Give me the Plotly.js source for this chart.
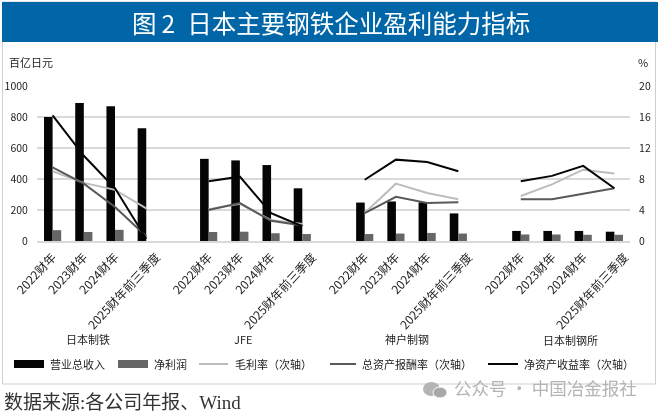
<!DOCTYPE html>
<html><head><meta charset="utf-8">
<script src="https://cdn.plot.ly/plotly-3.0.1.min.js"></script>
<style>html,body{margin:0;padding:0;background:#fff}#c{width:660px;height:413px;filter:blur(0.3px)}</style>
</head><body><div id="c"></div>
<script>
const periods = ['2022财年','2023财年','2024财年','2025财年前三季度'];
const companies = ['日本制铁','JFE','神户制钢','日本制钢所'];
const slots = [0,1,2,3,4,5,6,7,8,9,10,11,12,13,14,15,16,17,18];
const tickSlots = [0,1,2,3.33,5,6,7,8.33,10,11,12,13.33,15,16,17,18.33];
const tickLabels = [...periods,...periods,...periods,...periods];
const revenue = [800,890,870,728,null,530,520,490,340,null,248,255,250,178,null,65,65,65,60];
const netProfit = [70,58,72,0,null,58,60,50,45,null,45,48,52,48,null,42,42,40,40];
const grossMargin = [9.0,7.5,6.6,4.2,null,4.1,4.8,2.7,2.2,null,3.6,7.4,6.2,5.4,null,5.8,7.3,9.2,8.7];
const roa = [9.5,7.4,4.4,0.6,null,4.0,4.9,2.6,2.0,null,3.6,5.7,4.9,5.0,null,5.4,5.4,6.1,6.8];
const roe = [16.2,11.0,6.8,0.3,null,7.7,8.3,3.6,1.9,null,7.9,10.5,10.2,9.0,null,7.7,8.4,9.7,6.8];
const seriesNames = ['营业总收入','净利润','毛利率（次轴）','总资产报酬率（次轴）','净资产收益率（次轴）'];
const titleText = '图\u20092\u2002日本主要钢铁企业盈利能力指标';
const sourceText = '数据来源:各公司年报、Wind';
const watermarkText = '公众号 · 中国冶金报社';

const CJK = '"Noto Sans CJK SC","Noto Sans",sans-serif';
const L=37,R=630,T=86,B=241;
const px=x=>(x-L)/(R-L), py=y=>(B-y)/(B-T);
const rect=(x0,y0,x1,y1,fill,line)=>({type:'rect',xref:'paper',yref:'paper',x0:px(x0),x1:px(x1),y0:py(y0),y1:py(y1),fillcolor:fill,line:line||{width:0},layer:'below'});
const hline=(x0,x1,y,color,w)=>({type:'line',xref:'paper',yref:'paper',x0:px(x0),x1:px(x1),y0:py(y),y1:py(y),line:{color:color,width:w}});
const note=(t,x,y,size,color,anchor,extra)=>Object.assign({text:t,xref:'paper',yref:'paper',x:px(x),y:py(y),xanchor:anchor||'left',yanchor:'middle',showarrow:false,font:{family:CJK,size:size,color:color}},extra||{});

const traces=[
 {type:'bar',name:seriesNames[0],x:slots,y:revenue,marker:{color:'#050505'},yaxis:'y',offsetgroup:'a'},
 {type:'bar',name:seriesNames[1],x:slots,y:netProfit,marker:{color:'#666666'},yaxis:'y',offsetgroup:'b'},
 {type:'scatter',mode:'lines',name:seriesNames[2],x:slots,y:grossMargin,line:{color:'#bdbdbd',width:2},yaxis:'y2'},
 {type:'scatter',mode:'lines',name:seriesNames[3],x:slots,y:roa,line:{color:'#595959',width:2},yaxis:'y2'},
 {type:'scatter',mode:'lines',name:seriesNames[4],x:slots,y:roe,line:{color:'#050505',width:2},yaxis:'y2'}
];
const layout={
 width:660,height:413,margin:{l:L,r:660-R,t:T,b:413-B,pad:0},
 paper_bgcolor:'#fff',plot_bgcolor:'rgba(0,0,0,0)',showlegend:false,
 barmode:'group',bargap:0.45,bargroupgap:0,
 font:{family:CJK,color:'#222'},
 xaxis:{range:[-0.5,18.5],tickmode:'array',tickvals:tickSlots,ticktext:tickLabels,tickangle:-47,ticklabelstandoff:3,
   tickfont:{size:12,color:'#222',family:CJK},ticks:'',showgrid:false,zeroline:false,showline:true,linecolor:'#d9d9d9',linewidth:1.5,automargin:false},
 yaxis:{range:[0,1000],tickvals:[0,200,400,600,800,1000],tickfont:{size:10.5,color:'#222'},gridcolor:'#d9d9d9',gridwidth:1.2,zeroline:false,showline:false,ticks:'outside',ticklen:6,tickcolor:'rgba(0,0,0,0)',automargin:false},
 yaxis2:{range:[0,20],overlaying:'y',side:'right',tickvals:[0,4,8,12,16,20],tickfont:{size:10.5,color:'#222'},showgrid:false,zeroline:false,showline:false,ticks:'outside',ticklen:6,tickcolor:'rgba(0,0,0,0)',automargin:false},
 shapes:[
  rect(2.5,2,655.5,384,'rgba(0,0,0,0)',{color:'#cfcfcf',width:1}),
  rect(2,2,658,42,'#0066a8'),
  rect(14,360,44,368,'#050505'),
  rect(118,360,148,368,'#666666'),
  hline(199,228,364,'#bdbdbd',2),
  hline(330,356,364,'#595959',2),
  hline(488,518,364,'#050505',2),
  {type:'circle',xref:'paper',yref:'paper',x0:px(423),x1:px(440),y0:py(382),y1:py(396),fillcolor:'#b4b4b4',line:{width:0}},
  {type:'circle',xref:'paper',yref:'paper',x0:px(433),x1:px(447),y0:py(387),y1:py(398),fillcolor:'#a8a8a8',line:{color:'#fff',width:1}}
 ],
 annotations:[
  note(titleText,331,22,24.5,'#ffffff','center'),
  note('百亿日元',7,62,11,'#222'),
  note('%',636,62,11,'#222'),
  note(companies[0],88,339,11,'#222','center'),
  note(companies[1],243,339,11,'#222','center'),
  note(companies[2],407,339,11,'#222','center'),
  note(companies[3],570,340,11,'#222','center'),
  note(seriesNames[0],48,364,11,'#222'),
  note(seriesNames[1],152,364,11,'#222'),
  note(seriesNames[2],233,364,11,'#222'),
  note(seriesNames[3],360,364,11,'#222'),
  note(seriesNames[4],522,364,11,'#222'),
  note(watermarkText,452,387,17.5,'#b4b4b4'),
  note(sourceText,2,403,19,'#333','left',{font:{family:'"Liberation Serif",'+CJK,size:19,color:'#333'}})
 ]
};
Plotly.newPlot('c',traces,layout,{displayModeBar:false,staticPlot:true});
</script></body></html>
